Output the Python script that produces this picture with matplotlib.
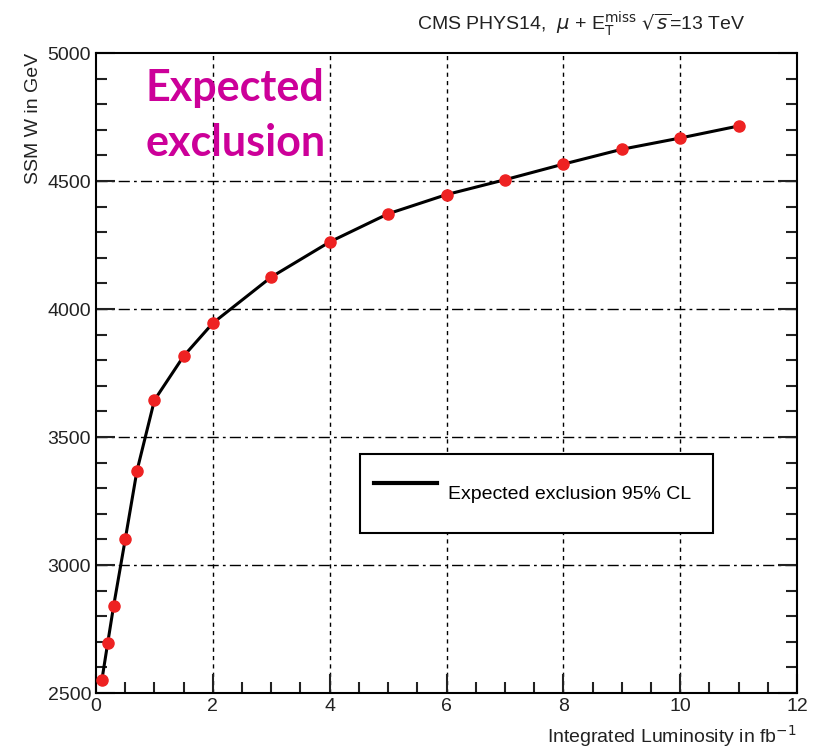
import matplotlib
matplotlib.use("Agg")
import matplotlib.pyplot as plt
from matplotlib.ticker import MultipleLocator
from matplotlib.lines import Line2D

# ---------------------------
# data
lumi = [0.1, 0.2, 0.3, 0.5, 0.7, 1.0, 1.5, 2, 3, 4, 5, 6, 7, 8, 9, 10, 11]
mass = [2550, 2695, 2838, 3100, 3367, 3644, 3816, 3945, 4125, 4262,
        4372, 4447, 4505, 4566, 4624, 4668, 4715]

x_ticks = [0, 2, 4, 6, 8, 10, 12]
y_ticks = [2500, 3000, 3500, 4000, 4500, 5000]

plt.rcParams['font.family'] = ['Liberation Sans Narrow', 'Liberation Sans', 'DejaVu Sans']

fig = plt.figure(figsize=(8.15, 7.51), dpi=100)
ax = fig.add_axes([0.1178, 0.0772, 0.8602, 0.8522])

# grid: dashed verticals, dash-dot horizontals
for xv in x_ticks[1:]:
    ax.axvline(xv, color="black", lw=1.0, ls=(0, (3, 3)), zorder=1)
for yv in y_ticks[1:-1]:
    ax.axhline(yv, color="black", lw=1.0, ls=(0, (8, 3, 2, 3)), zorder=1)

ax.plot(lumi, mass, color="black", lw=2.2, zorder=2)
ax.plot(lumi, mass, "o", color="#ee2222", ms=8, mec="#ee2222", zorder=3)

ax.set_xlim(0, 12)
ax.set_ylim(2500, 5000)
ax.set_xticks(x_ticks)
ax.set_yticks(y_ticks)
ax.xaxis.set_minor_locator(MultipleLocator(0.5))
ax.yaxis.set_minor_locator(MultipleLocator(100))
ax.tick_params(which="both", direction="in", top=False, right=True,
               labelsize=14, width=1.5, colors="#222222")
ax.tick_params(which="major", length=14)
ax.tick_params(which="minor", length=8)
for s in ax.spines.values():
    s.set_linewidth(1.5)

ax.set_xlabel("Integrated Luminosity in fb$^{-1}$", fontsize=14, loc="right",
              labelpad=6, color="#222222")
ax.set_ylabel("SSM W in GeV", fontsize=14, loc="top", labelpad=4,
              color="#222222")

fig.text(0.915, 0.968, r"CMS PHYS14,  $\mu$ + E$_{\mathrm{T}}^{\mathrm{miss}}$ $\sqrt{s}$=13 TeV",
         ha="right", va="center", fontsize=14, color="#222222")

ax.text(0.84, 4940, "Expected\nexclusion", fontsize=31, fontweight="bold",
        color="#cc0099", family=["Lato", "DejaVu Sans"], va="top",
        linespacing=1.45)

handle = Line2D([], [], color="black", lw=3)
leg = ax.legend([handle], ["Expected exclusion 95% CL"],
                loc="lower left", bbox_to_anchor=(0.3766, 0.25, 0.5036, 0.125),
                mode="expand", borderaxespad=0, fancybox=False,
                edgecolor="black", fontsize=14, framealpha=1, borderpad=0.7,
                handleheight=3.7, handlelength=3.25, handletextpad=0.6)
leg.get_frame().set_linewidth(1.5)

fig.savefig("out.png", dpi=100)
